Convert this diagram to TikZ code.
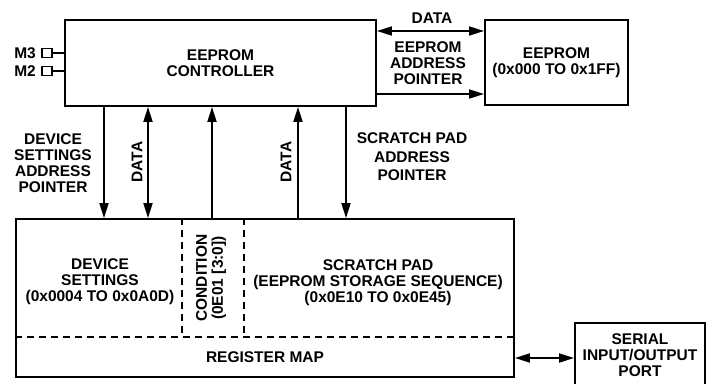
\documentclass[tikz,border=0pt]{standalone}
\usepackage{fontspec}
\setmainfont{Liberation Sans}
\usetikzlibrary{arrows.meta}
\begin{document}
\begin{tikzpicture}[x=1pt,y=-1pt,
  every node/.style={font=\fontsize{15.5}{16}\selectfont\bfseries, align=center, inner sep=0pt},
  box/.style={draw, line width=1.9pt, rectangle},
  arr/.style={line width=1.9pt, -{Triangle[length=15pt,width=9pt]}},
  darr/.style={line width=1.9pt, {Triangle[length=15pt,width=9pt]}-{Triangle[length=15pt,width=9pt]}},
  dsh/.style={line width=1.4pt, dash pattern=on 7pt off 5pt},
  pinbox/.style={draw, line width=1.5pt, minimum width=10pt, minimum height=9pt, inner sep=0pt},
  pinline/.style={line width=1.5pt}]
\useasboundingbox (0,0) rectangle (715,383);

% main boxes
\node[box, minimum width=311pt, minimum height=86pt] (ctrl) at (220.5,63) {EEPROM\\CONTROLLER};
\node[box, minimum width=143pt, minimum height=85pt] (eep) at (556.5,62.5) {EEPROM\\(0x000 TO 0x1FF)};
\node[box, minimum width=498pt, minimum height=158pt] (reg) at (265,298) {};
\node[box, minimum width=130pt, minimum height=65pt] (ser) at (640,355.5) {SERIAL\\INPUT/OUTPUT\\PORT};

% pins
\node[pinbox] (m3) at (47,53) {};
\node[pinbox] (m2) at (47,71) {};
\node[anchor=east] (lm3) at (36,53) {M3};
\node[anchor=east] (lm2) at (36,71) {M2};
\draw[pinline] (m3.east) -- (m3.east -| ctrl.west);
\draw[pinline] (m2.east) -- (m2.east -| ctrl.west);

% x positions of vertical connectors
\coordinate (x1) at (104,0);
\coordinate (x2) at (148,0);
\coordinate (x3) at (212,0);
\coordinate (x4) at (298,0);
\coordinate (x5) at (346,0);
\draw[arr]  (ctrl.south -| x1) -- (reg.north -| x1);
\draw[darr] (ctrl.south -| x2) -- (reg.north -| x2);
\draw[arr]  (reg.north -| x3) -- (ctrl.south -| x3);
\draw[arr]  (reg.north -| x4) -- (ctrl.south -| x4);
\draw[arr]  (ctrl.south -| x5) -- (reg.north -| x5);

% horizontal connectors
\coordinate (ydata) at (0,31);
\coordinate (yptr) at (0,94);
\coordinate (yser) at (0,358);
\draw[darr] (ctrl.east |- ydata) -- (eep.west |- ydata);
\draw[arr]  (ctrl.east |- yptr) -- (eep.west |- yptr);
\draw[darr] (reg.east |- yser) -- (ser.west |- yser);

% connector labels
\node (ldata) at (432,18) {DATA};
\node (lptr) at (428,63) {EEPROM\\ADDRESS\\POINTER};
\node (ldev) at (53,163) {DEVICE\\SETTINGS\\ADDRESS\\POINTER};
\node[rotate=90] (ld1) at (137,162) {DATA};
\node[rotate=90] (ld2) at (286,162) {DATA};
\node[font=\fontsize{15.5}{18.5}\selectfont\bfseries] (lsp) at (412,157) {SCRATCH PAD\\ADDRESS\\POINTER};

% register map partitions
\coordinate (dh) at (0,337);
\coordinate (dv1) at (182,337);
\coordinate (dv2) at (244,337);
\draw[dsh] (reg.west |- dh) -- (reg.east |- dh);
\draw[dsh] (reg.north -| dv1) -- (dv1);
\draw[dsh] (reg.north -| dv2) -- (dv2);

\node (tdev) at (100,282) {DEVICE\\SETTINGS\\(0x0004 TO 0x0A0D)};
\node[rotate=90] (tcond) at (211,278) {CONDITION\\(0E01 [3:0])};
\node (tsp) at (378,283) {SCRATCH PAD\\(EEPROM STORAGE SEQUENCE)\\(0x0E10 TO 0x0E45)};
\node (tmap) at (265,357) {REGISTER MAP};
\end{tikzpicture}
\end{document}
